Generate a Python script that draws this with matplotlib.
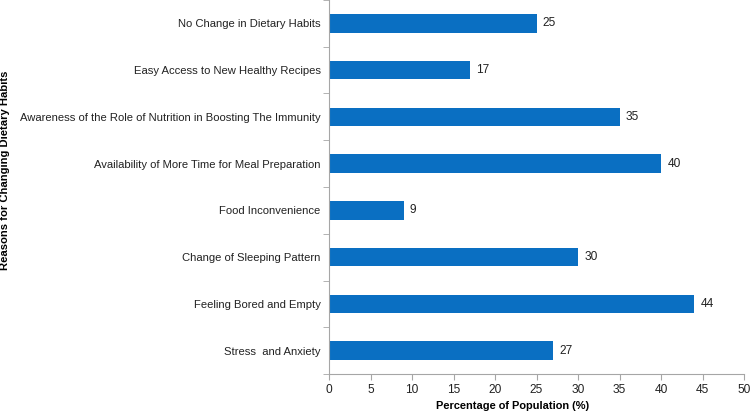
import matplotlib
matplotlib.use("Agg")
import matplotlib.pyplot as plt
import numpy as np
from matplotlib.ticker import FixedLocator

categories = [
    "Stress  and Anxiety",
    "Feeling Bored and Empty",
    "Change of Sleeping Pattern",
    "Food Inconvenience",
    "Availability of More Time for Meal Preparation",
    "Awareness of the Role of Nutrition in Boosting The Immunity",
    "Easy Access to New Healthy Recipes",
    "No Change in Dietary Habits",
]
values = [27, 44, 30, 9, 40, 35, 17, 25]
xticks = [0, 5, 10, 15, 20, 25, 30, 35, 40, 45, 50]

plt.rcParams['font.family'] = ['Liberation Sans', 'DejaVu Sans']
fs = 8.1
bar_color = "#0A6FC2"
axis_color = "#A6A6A6"

fig = plt.figure(figsize=(7.51, 4.11), dpi=100)
ax = fig.add_axes([329/751, 37/411, (744-329)/751, 374/411])

y = np.arange(len(categories))
ax.barh(y, values, height=0.4, color=bar_color)
for yi, v in zip(y, values):
    ax.annotate(str(v), (v, yi), xytext=(4.5, 0), textcoords="offset points",
                va="center", ha="left", fontsize=8.6, color="#222222")

ax.set_xlim(0, 50)
ax.set_ylim(-0.5, len(categories) - 0.5)
ax.set_xticks(xticks)
ax.set_xticklabels([str(t) for t in xticks], fontsize=8.6, color="#222222")
ax.set_yticks(y)
ax.set_yticklabels(categories, fontsize=fs, color="#222222")
ax.tick_params(axis="y", which="major", length=0, pad=6)
ax.yaxis.set_minor_locator(FixedLocator(np.arange(-0.5, len(categories), 1.0)))
ax.tick_params(axis="y", which="minor", length=4, color=axis_color, direction="out")
ax.tick_params(axis="x", length=4, color=axis_color, direction="out", pad=3)

for s in ["top", "right"]:
    ax.spines[s].set_visible(False)
for s in ["left", "bottom"]:
    ax.spines[s].set_color(axis_color)
    ax.spines[s].set_linewidth(0.8)

ax.set_xlabel("Percentage of Population (%)", fontsize=7.9, fontweight="bold")
ax.xaxis.set_label_coords(0.443, -0.073)
fig.text(0.007, 0.586, "Reasons for Changing Dietary Habits", rotation=90,
         fontsize=fs, fontweight="bold", ha="center", va="center")

fig.savefig("out.png", dpi=100)
